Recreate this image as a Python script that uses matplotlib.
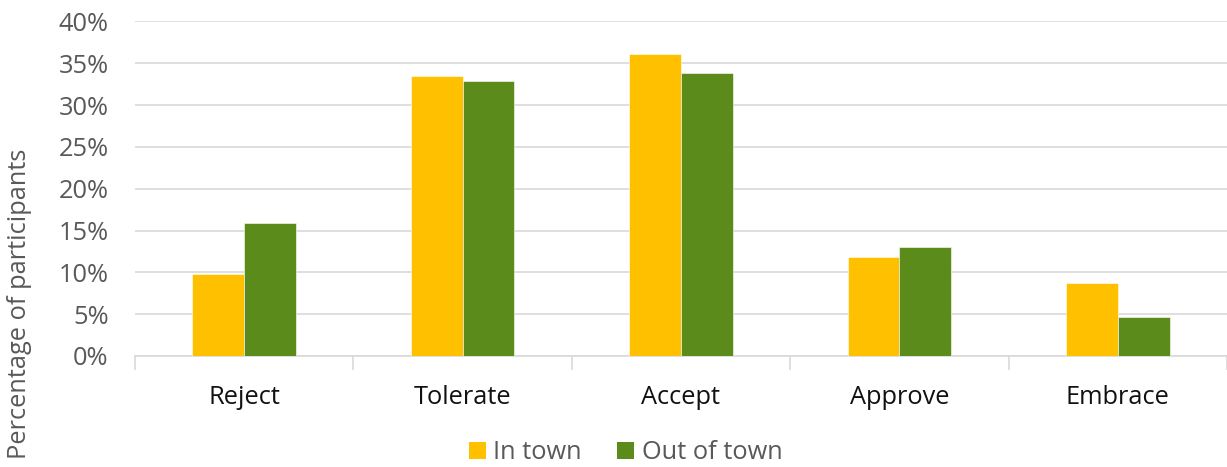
import matplotlib
matplotlib.use("Agg")
import matplotlib.pyplot as plt
import numpy as np
from matplotlib.ticker import FixedLocator, PercentFormatter
from matplotlib.patches import Patch

categories = ["Reject", "Tolerate", "Accept", "Approve", "Embrace"]
in_town = [9.8, 33.5, 36.1, 11.8, 8.7]
out_of_town = [15.9, 32.9, 33.8, 13.0, 4.7]
series_names = ["In town", "Out of town"]
y_ticks = [0, 5, 10, 15, 20, 25, 30, 35, 40]

plt.rcParams['font.family'] = ['Open Sans', 'DejaVu Sans']

FS = 18.3
fig = plt.figure(figsize=(12.27, 4.67), dpi=100)
ax = fig.add_axes([0.110, 0.2377, 0.890, 0.7163])

x = np.arange(len(categories))
w = 0.237
yellow = "#FFC000"
green = "#5B8C1B"
ax.bar(x - w/2, in_town, w, color=yellow, edgecolor="white", linewidth=0.4, zorder=3)
ax.bar(x + w/2, out_of_town, w, color=green, edgecolor="white", linewidth=0.4, zorder=3)

ax.set_xlim(-0.5, len(categories) - 0.5)
ax.set_ylim(0, 40)
ax.set_yticks(y_ticks)
ax.yaxis.set_major_formatter(PercentFormatter(decimals=0))
ax.grid(axis='y', color="#D9D9D9", linewidth=1.2, zorder=0)

ax.xaxis.set_major_locator(FixedLocator(np.arange(len(categories) + 1) - 0.5))
ax.xaxis.set_minor_locator(FixedLocator(x))
ax.set_xticklabels([""] * (len(categories) + 1))
ax.set_xticklabels(categories, minor=True)
ax.tick_params(axis='x', which='major', length=10, color="#D9D9D9", width=1.2, direction='out')
ax.tick_params(axis='x', which='minor', length=0, pad=21, labelsize=FS, labelcolor="#111111")
ax.tick_params(axis='y', length=0, pad=19, labelsize=FS, labelcolor="#595959")

for s in ["top", "right", "left"]:
    ax.spines[s].set_visible(False)
ax.spines["bottom"].set_color("#D9D9D9")
ax.spines["bottom"].set_linewidth(1.2)

ax.set_ylabel("Percentage of participants", fontsize=FS, color="#595959")
ax.yaxis.set_label_coords(-0.0943, 0.155, transform=ax.transAxes)

handles = [Patch(facecolor=yellow), Patch(facecolor=green)]
fig.legend(handles, series_names, loc='center', bbox_to_anchor=(0.51, 0.031), ncol=2,
           frameon=False, fontsize=FS, labelcolor="#595959",
           handlelength=0.65, handleheight=0.65, handletextpad=0.3, columnspacing=1.4)

fig.savefig("out.png", dpi=100)
